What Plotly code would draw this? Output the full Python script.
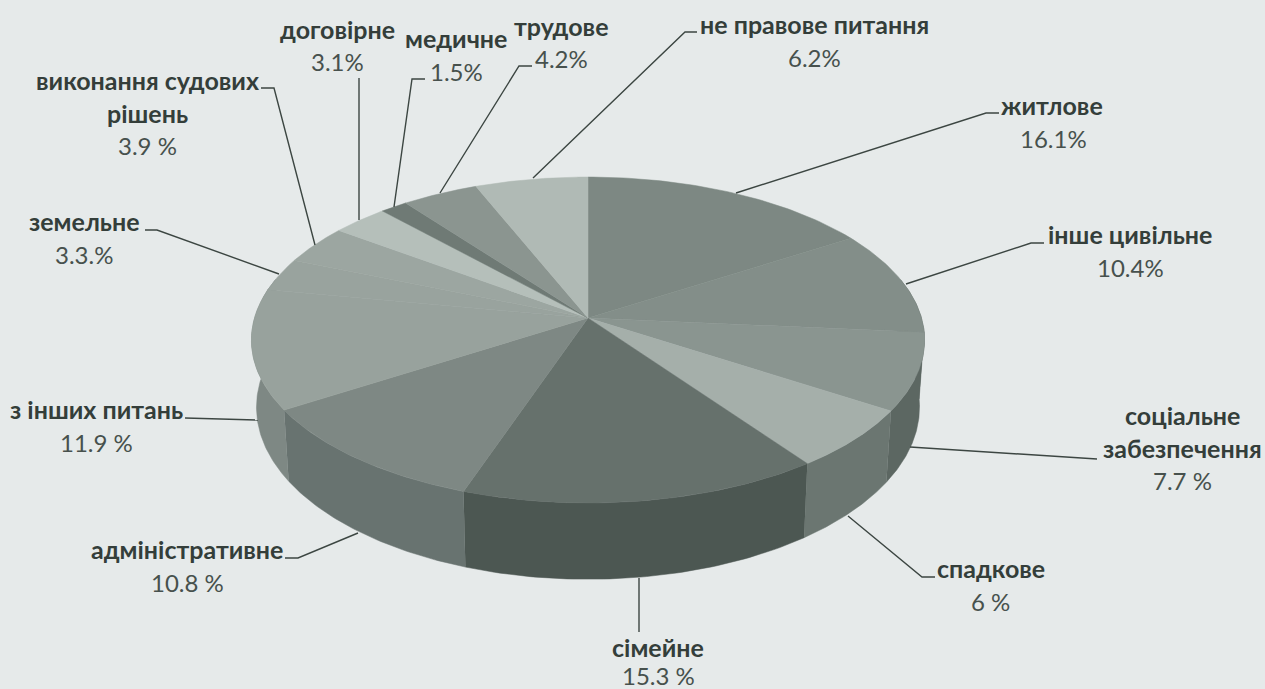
import numpy as np
import plotly.graph_objects as go

# ---- data ----
categories = ["житлове", "інше цивільне", "соціальне забезпечення", "спадкове", "сімейне",
              "адміністративне", "з інших питань", "земельне", "виконання судових рішень",
              "договірне", "медичне", "трудове", "не правове питання"]
values = [16.1, 10.4, 7.7, 6.0, 15.3, 10.8, 11.9, 3.3, 3.9, 3.1, 1.5, 4.2, 6.2]
value_labels = ["16.1%", "10.4%", "7.7 %", "6 %", "15.3 %", "10.8 %", "11.9 %", "3.3.%",
                "3.9 %", "3.1%", "1.5%", "4.2%", "6.2%"]
name_lines = [["житлове"], ["інше цивільне"], ["соціальне", "забезпечення"], ["спадкове"], ["сімейне"],
              ["адміністративне"], ["з інших питань"], ["земельне"], ["виконання судових", "рішень"],
              ["договірне"], ["медичне"], ["трудове"], ["не правове питання"]]

# ---- styling / layout ----
top_colors = ["#7d8883", "#838e89", "#8a9590", "#a5afaa", "#66716c", "#7e8884", "#98a29d",
              "#99a39e", "#9ca6a1", "#b5bfba", "#6f7a75", "#8b9590", "#b0bab5"]
side_colors = ["#5c6762", "#5c6762", "#5c6762", "#6b7671", "#4c5752", "#687370", "#7e8884",
               "#7e8884", "#7e8884", "#7e8884", "#5a6560", "#6f7a75", "#7e8884"]
label_anchor = [(1052, 105), (1130, 234), (1182, 415), (991, 568), (658, 647), (187, 549), (96, 409),
                (84, 221), (147, 80), (337, 29), (456, 38), (561, 26), (814, 24)]
value_offset = [(1, 33), (0, 33), (0, 32), (-1, 33), (0, 28), (0, 33), (0, 33),
                (0, 33), (0, 32), (0, 32), (0, 33), (0, 32), (0, 33)]
line_step = 33
leaders = [
    [(736, 193), (986, 113), (999, 113)],
    [(906, 284), (1031, 243), (1044, 243)],
    [(910, 447), (1097, 459)],
    [(848, 516), (922, 577), (935, 577)],
    [(639, 578), (639, 632)],
    [(358, 533), (298, 558), (285, 558)],
    [(185, 418), (258, 420)],
    [(279, 274), (157, 230), (145, 230)],
    [(315, 245), (274, 88), (261, 88)],
    [(359, 220), (359, 78)],
    [(394, 207), (412, 79), (425, 79)],
    [(440, 193), (519, 66), (532, 66)],
    [(533, 178), (685, 32), (697, 32)],
]

CX, CY, A, B, K, DEPTH, SHRINK = 588, 318, 333.5, 160, 0.135, 66, 0.985
BG = "#e6eaea"
FONT = "Lato"
NAME_SIZE = 25
VALUE_SIZE = 24


def project(angle, radius=1.0):
    """Perspective view of a disc; angle is clockwise from 12 o'clock."""
    u, v = radius * np.sin(angle), -radius * np.cos(angle)
    d = 1 - K * v
    return CX + A * u / d, CY + B * v / d


def project_low(angle):
    u, v = np.sin(angle), -np.cos(angle)
    d = 1 - K * v
    return CX + SHRINK * A * u / d, CY + (B * v + DEPTH) / d


shares = np.array(values) / np.sum(values)
edges = np.concatenate([[0], np.cumsum(shares)]) * 2 * np.pi

fig = go.Figure()

# walls: only what faces the viewer
for i in range(len(values)):
    lo = max(edges[i], np.pi * 0.42)
    hi = min(edges[i + 1], np.pi * 1.58)
    if hi <= lo:
        continue
    t = np.linspace(lo, hi, 60)
    xt, yt = project(t)
    xb, yb = project_low(t)
    fig.add_trace(go.Scatter(x=np.r_[xt, xb[::-1]], y=np.r_[yt, yb[::-1]], mode="lines", fill="toself",
                             fillcolor=side_colors[i], line=dict(color=side_colors[i], width=0.5),
                             hoverinfo="skip", showlegend=False))

# top faces
for i in range(len(values)):
    t = np.linspace(edges[i], edges[i + 1], 60)
    x, y = project(t)
    fig.add_trace(go.Scatter(x=np.r_[CX, x, CX], y=np.r_[CY, y, CY], mode="lines", fill="toself",
                             fillcolor=top_colors[i], line=dict(color=top_colors[i], width=0.5),
                             name=categories[i], text=value_labels[i], hoverinfo="name+text",
                             showlegend=False))

# leader lines
for pts in leaders:
    fig.add_trace(go.Scatter(x=[p[0] for p in pts], y=[p[1] for p in pts], mode="lines",
                             line=dict(color="#3c4642", width=1.4), hoverinfo="skip", showlegend=False))

# labels
for i, lines in enumerate(name_lines):
    ax, ay = label_anchor[i]
    for j, line in enumerate(lines):
        fig.add_annotation(x=ax, y=ay + j * line_step, text=f"<b>{line}</b>", showarrow=False,
                           font=dict(family=FONT, size=NAME_SIZE, color="#343e3a"), xanchor="center", yanchor="middle")
    ox, oy = value_offset[i]
    fig.add_annotation(x=ax + ox, y=ay + (len(lines) - 1) * line_step + oy, text=value_labels[i], showarrow=False,
                       font=dict(family=FONT, size=VALUE_SIZE, color="#47514d"), xanchor="center", yanchor="middle")

fig.update_layout(
    width=1265, height=689, margin=dict(l=0, r=0, t=0, b=0),
    paper_bgcolor=BG, plot_bgcolor=BG, showlegend=False,
    xaxis=dict(range=[0, 1265], visible=False, fixedrange=True),
    yaxis=dict(range=[689, 0], visible=False, fixedrange=True),
)
fig.write_html("out.html", config=dict(displayModeBar=False),
               post_script="document.body.style.margin='0';document.body.style.overflow='hidden';"
                           "document.body.style.background='#e6eaea';")
